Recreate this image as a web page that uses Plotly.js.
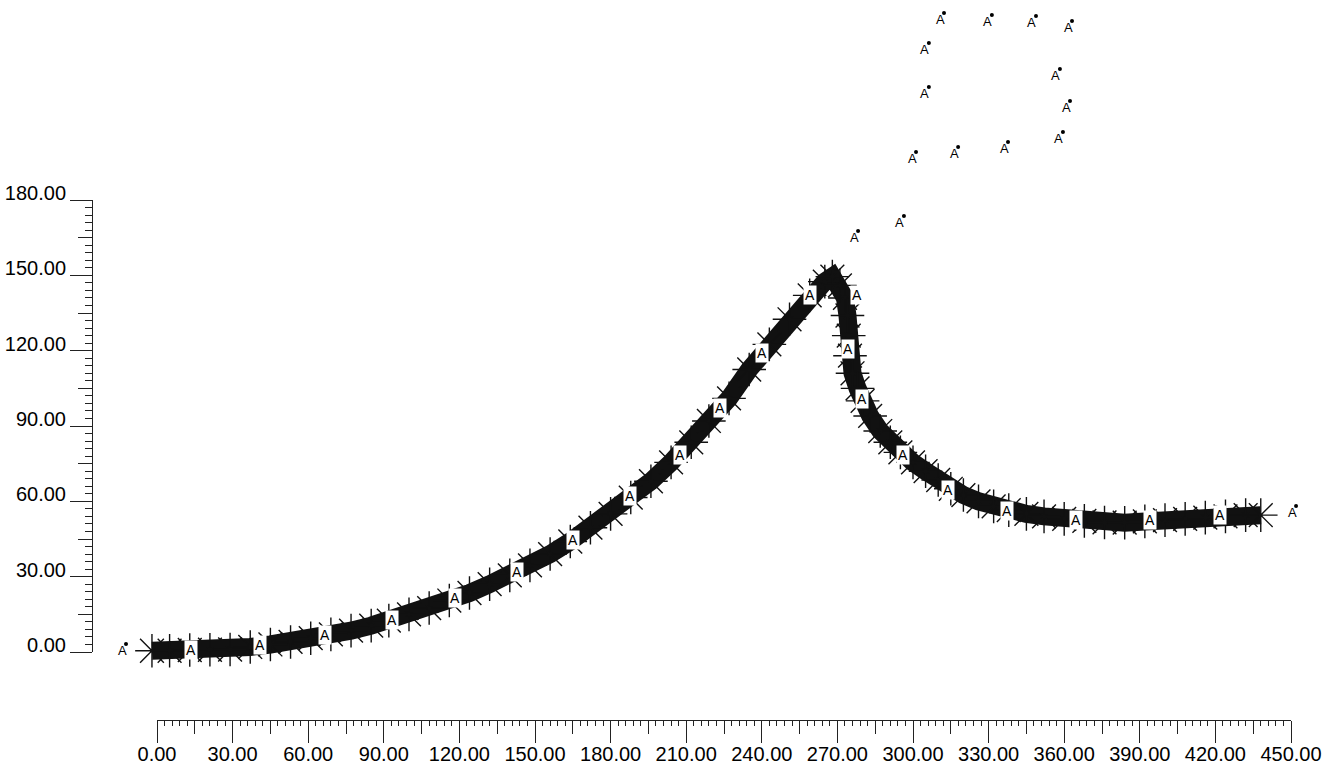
<!DOCTYPE html>
<html>
<head>
<meta charset="utf-8">
<script src="https://cdn.plot.ly/plotly-3.0.1.min.js"></script>
<style>html,body{margin:0;padding:0;background:#fff;}#chart{width:1329px;height:769px;}</style>
</head>
<body>
<div id="chart"></div>
<script>
// ---- data ----
const bandX = [-2, 5, 13, 21, 29, 37, 45, 53, 61, 69, 77, 85, 92, 100, 108, 116, 124, 132, 140, 148,
  156, 164, 172, 180, 188, 196, 204, 212, 219, 227, 235, 243, 251, 259, 265, 268, 271, 273, 274, 274.5,
  275, 276, 278, 280, 283, 287, 291, 295, 300, 305, 310, 315, 320, 326, 332, 338, 345, 352, 360, 368,
  376, 384, 392, 400, 408, 416, 424, 432, 438];
const bandY = [0.5, 0.5, 0.8, 0.9, 1.0, 2.0, 3.0, 4.0, 5.5, 7.0, 8.5, 10.5, 12.5, 15, 17.5, 20.5, 23.5, 27, 30.5, 34.5,
  39, 44, 49.5, 55, 61.5, 68, 75.5, 83.5, 92, 101, 112.5, 122.5, 132.5, 142, 147.5, 149.5, 146, 141, 134, 126,
  118, 111, 105, 100, 94, 88, 83.5, 79.5, 75.5, 72, 68.5, 65, 62.5, 60, 58, 56.5, 55, 54, 53, 52.2,
  51.6, 51.5, 52, 52.5, 53, 53.5, 54, 54.5, 54.5];

const bandLabelX = [13.5, 40.9, 66.7, 93.3, 118.3, 142.9, 165.1, 187.7, 207.5, 223.4, 240.1, 259.1,
  277.8, 274.2, 279.8, 296.0, 313.9, 337.3, 364.7, 394.0, 421.8];
const bandLabelY = [0.8, 2.8, 6.8, 12.7, 21.5, 31.9, 44.6, 62.1, 78.5, 97.2, 119.1, 142.2,
  142.2, 120.7, 100.8, 78.5, 64.5, 56.2, 52.6, 52.6, 54.6];

const pointX = [-12.3, 278.2, 296.4, 301.2, 317.9, 337.7, 359.5, 362.3, 358.3, 306.3, 306.3, 312.3, 331.3, 348.8, 363.1, 452.0];
const pointY = [3.2, 167.7, 173.6, 199.1, 201.1, 203.1, 207.1, 219.4, 232.2, 225.0, 242.5, 254.5, 253.7, 253.3, 251.3, 58.1];
const pointLabel = 'A';
const bandLabel = 'A';

const xTickRange = [0, 450];
const yTickRange = [0, 180];

// ---- layout geometry ----
const W = 1329, H = 769;
const px0 = 157, px1 = 1291;      // pixel of x=0 and x=450
const pyBottom = 117, pyTop = 569; // pixels from bottom of y=0 and y=180
const kx = (px1 - px0) / (xTickRange[1] - xTickRange[0]);
const ky = (pyTop - pyBottom) / (yTickRange[1] - yTickRange[0]);
const dataXRange = [-px0 / kx, (W - px0) / kx];
const dataYRange = [-pyBottom / ky, (H - pyBottom) / ky];

const font = {family: 'Liberation Sans, Arial, sans-serif', size: 20, color: '#000'};
const axCol = '#222';

const traces = [
  {
    x: bandX, y: bandY, xaxis: 'x', yaxis: 'y', type: 'scatter', mode: 'lines+markers',
    line: {color: '#111', width: 18},
    marker: {symbol: 'asterisk-open', size: 28, line: {color: '#111', width: 1.4}, color: '#111'},
    hoverinfo: 'skip', showlegend: false
  },
  {
    x: pointX, y: pointY, xaxis: 'x', yaxis: 'y', type: 'scatter', mode: 'markers',
    marker: {symbol: 'circle', size: 4, color: '#000'},
    hoverinfo: 'skip', showlegend: false
  },
  {x: [], y: [], xaxis: 'x2', yaxis: 'y2', type: 'scatter', mode: 'markers', showlegend: false, hoverinfo: 'skip'},
  {x: [], y: [], xaxis: 'x3', yaxis: 'y3', type: 'scatter', mode: 'markers', showlegend: false, hoverinfo: 'skip'}
];

const annotations = [];
bandLabelX.forEach((x, i) => {
  annotations.push({
    x: x, y: bandLabelY[i], xref: 'x', yref: 'y', text: bandLabel, showarrow: false,
    font: {family: 'Liberation Sans, Arial, sans-serif', size: 14, color: '#000'},
    bgcolor: '#fff', borderpad: 1, xanchor: 'center', yanchor: 'middle'
  });
});
pointX.forEach((x, i) => {
  annotations.push({
    x: x, y: pointY[i], xref: 'x', yref: 'y', text: pointLabel, showarrow: false,
    font: {family: 'Liberation Sans, Arial, sans-serif', size: 13, color: '#000'},
    xanchor: 'center', yanchor: 'top', xshift: -4, yshift: 2, borderpad: 0
  });
});

const minorVals = (lo, hi, step, skip) => {
  const out = [];
  for (let v = lo; v <= hi + 1e-9; v += step) { if (Math.abs(v % skip) > 1e-9) out.push(v); }
  return out;
};
const midVals = (lo, hi) => { const o = []; for (let v = lo + 15; v < hi; v += 30) o.push(v); return o; };
const majVals = (lo, hi) => { const o = []; for (let v = lo; v <= hi + 1e-9; v += 30) o.push(v); return o; };

const layout = {
  width: W, height: H,
  margin: {l: 0, r: 0, t: 0, b: 0, pad: 0},
  paper_bgcolor: '#fff', plot_bgcolor: 'rgba(0,0,0,0)',
  showlegend: false,
  xaxis: {domain: [0, 1], range: dataXRange, visible: false, fixedrange: true},
  yaxis: {domain: [0, 1], range: dataYRange, visible: false, fixedrange: true},
  xaxis2: {
    domain: [px0 / W, px1 / W], range: xTickRange, anchor: 'free', position: 49 / H,
    showline: true, linecolor: axCol, linewidth: 1, showgrid: false, zeroline: false,
    ticks: 'outside', ticklen: 16, tickwidth: 1, tickcolor: axCol,
    tickmode: 'linear', tick0: 0, dtick: 30, tickformat: '.2f', tickfont: font,
    minor: {ticks: 'outside', ticklen: 5, tickwidth: 1, tickcolor: axCol, tickmode: 'array',
            tickvals: minorVals(0, 450, 3, 15), showgrid: false},
    fixedrange: true
  },
  xaxis3: {
    overlaying: 'x2', range: xTickRange, anchor: 'free', position: 49 / H,
    showline: false, showgrid: false, zeroline: false, showticklabels: false,
    ticks: 'outside', ticklen: 22, tickwidth: 1, tickcolor: axCol,
    tickmode: 'array', tickvals: majVals(0, 450),
    minor: {ticks: 'outside', ticklen: 13, tickwidth: 1, tickcolor: axCol, tickmode: 'array',
            tickvals: midVals(0, 450), showgrid: false},
    fixedrange: true
  },
  yaxis2: {
    domain: [pyBottom / H, pyTop / H], range: yTickRange, anchor: 'free', position: 92 / W, side: 'left',
    showline: true, linecolor: axCol, linewidth: 1, showgrid: false, zeroline: false,
    ticks: 'outside', ticklen: 22, tickwidth: 1, tickcolor: axCol,
    tickmode: 'linear', tick0: 0, dtick: 30, tickformat: '.2f', tickfont: font,
    ticklabelshift: -7,
    minor: {ticks: 'outside', ticklen: 7, tickwidth: 1, tickcolor: axCol, tickmode: 'array',
            tickvals: minorVals(0, 180, 3, 15), showgrid: false},
    fixedrange: true
  },
  yaxis3: {
    overlaying: 'y2', range: yTickRange, anchor: 'free', position: 92 / W, side: 'left',
    showline: false, showgrid: false, zeroline: false, showticklabels: false,
    ticks: 'outside', ticklen: 14, tickwidth: 1, tickcolor: axCol,
    tickmode: 'array', tickvals: midVals(0, 180), fixedrange: true
  },
  annotations: annotations
};

Plotly.newPlot('chart', traces, layout, {displayModeBar: false, staticPlot: true});
</script>
</body>
</html>
